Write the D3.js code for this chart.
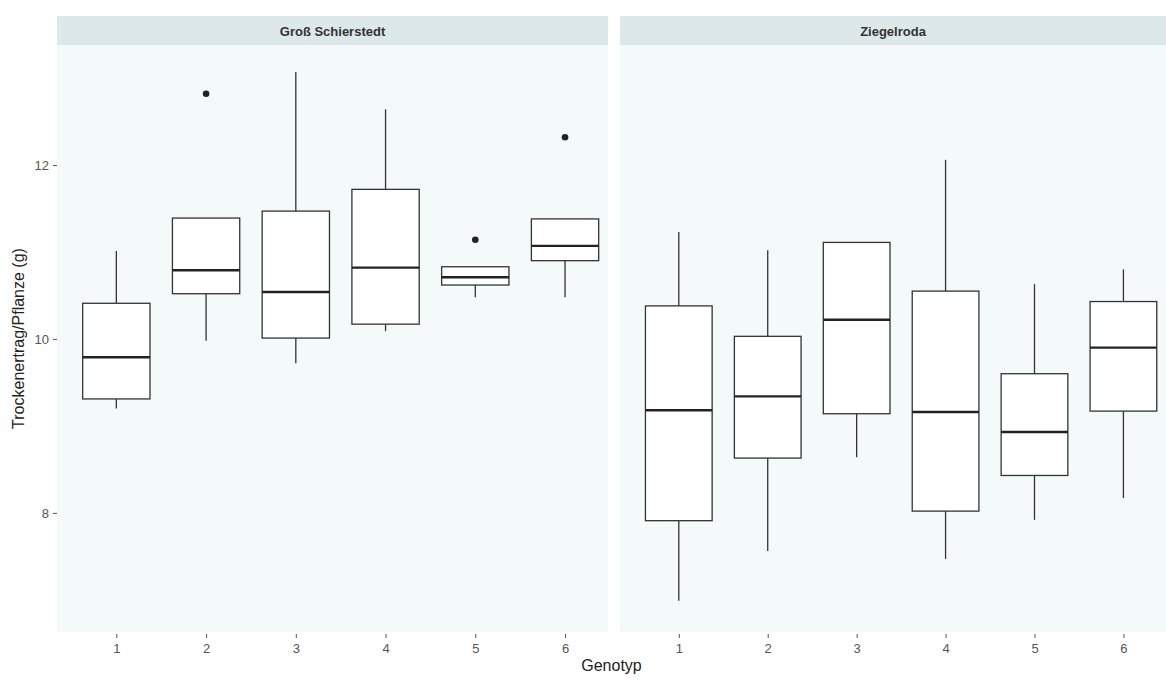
<!DOCTYPE html>
<html>
<head>
<meta charset="utf-8">
<script src="https://cdn.jsdelivr.net/npm/d3@7"></script>
<style>
  body { margin: 0; background: #fff; font-family: "Liberation Sans", Arial, sans-serif; }
</style>
</head>
<body>
<div id="chart"></div>
<script>
// genotypes on the x axis, one facet per location
var genotypes = ["1", "2", "3", "4", "5", "6"];
var locations = ["Groß Schierstedt", "Ziegelroda"];
var yTicks = [8, 10, 12];

// Groß Schierstedt
var gsWhiskerLow  = [9.20, 9.98, 9.72, 10.09, 10.48, 10.48];
var gsQ1          = [9.31, 10.52, 10.01, 10.17, 10.62, 10.90];
var gsMedian      = [9.79, 10.79, 10.54, 10.82, 10.71, 11.07];
var gsQ3          = [10.41, 11.39, 11.47, 11.72, 10.83, 11.38];
var gsWhiskerHigh = [11.01, 11.39, 13.07, 12.64, 10.83, 11.38];
var gsOutliers    = [[], [12.82], [], [], [11.14], [12.32]];

// Ziegelroda
var zrWhiskerLow  = [6.99, 7.56, 8.64, 7.47, 7.92, 8.17];
var zrQ1          = [7.91, 8.63, 9.14, 8.02, 8.43, 9.17];
var zrMedian      = [9.18, 9.34, 10.22, 9.16, 8.93, 9.90];
var zrQ3          = [10.38, 10.03, 11.11, 10.55, 9.60, 10.43];
var zrWhiskerHigh = [11.23, 11.02, 11.11, 12.06, 10.63, 10.80];
var zrOutliers    = [[], [], [], [], [], []];

function makeStats(lo, q1, med, q3, hi, out) {
  return genotypes.map(function(g, i) {
    return {g: g, lo: lo[i], q1: q1[i], med: med[i], q3: q3[i], hi: hi[i], out: out[i]};
  });
}

var facets = [
  {name: locations[0], stats: makeStats(gsWhiskerLow, gsQ1, gsMedian, gsQ3, gsWhiskerHigh, gsOutliers)},
  {name: locations[1], stats: makeStats(zrWhiskerLow, zrQ1, zrMedian, zrQ3, zrWhiskerHigh, zrOutliers)}
];

var W = 1166, H = 680;
var panelTop = 45, panelBottom = 632, stripTop = 16;
var panels = [{x0: 57, x1: 608}, {x0: 620, x1: 1166}];

var svg = d3.select("#chart").append("svg")
  .attr("width", W)
  .attr("height", H);

var y = d3.scaleLinear()
  .domain([6.63, 13.38])
  .range([panelBottom, panelTop]);

facets.forEach(function(f, pi) {
  var p = panels[pi];

  var x = d3.scalePoint()
    .domain(genotypes)
    .range([p.x0, p.x1])
    .padding(0.57)
    .align(0.58);
  var boxW = x.step() * 0.75;

  // strip
  svg.append("rect")
    .attr("x", p.x0).attr("y", stripTop)
    .attr("width", p.x1 - p.x0).attr("height", panelTop - stripTop)
    .attr("fill", "#dde8eb");
  svg.append("text")
    .attr("x", (p.x0 + p.x1) / 2).attr("y", (stripTop + panelTop) / 2 + 5)
    .attr("text-anchor", "middle")
    .attr("font-size", 13).attr("font-weight", "bold")
    .attr("fill", "#333")
    .text(f.name);

  // panel background
  svg.append("rect")
    .attr("x", p.x0).attr("y", panelTop)
    .attr("width", p.x1 - p.x0).attr("height", panelBottom - panelTop)
    .attr("fill", "#f4f9fa");

  // x axis
  var xAxis = svg.append("g")
    .attr("transform", "translate(0," + (panelBottom + 2) + ")")
    .call(d3.axisBottom(x).tickSize(4).tickPadding(6));
  xAxis.select(".domain").remove();
  xAxis.selectAll("line").attr("stroke", "#555");
  xAxis.selectAll("text").attr("font-size", 13).attr("fill", "#555")
    .attr("font-family", "Liberation Sans, Arial, sans-serif");

  var g = svg.append("g").selectAll("g")
    .data(f.stats)
    .enter().append("g");

  // whiskers
  g.append("line")
    .attr("x1", function(d) { return x(d.g); })
    .attr("x2", function(d) { return x(d.g); })
    .attr("y1", function(d) { return y(d.hi); })
    .attr("y2", function(d) { return y(d.q3); })
    .attr("stroke", "#333").attr("stroke-width", 1.3);
  g.append("line")
    .attr("x1", function(d) { return x(d.g); })
    .attr("x2", function(d) { return x(d.g); })
    .attr("y1", function(d) { return y(d.q1); })
    .attr("y2", function(d) { return y(d.lo); })
    .attr("stroke", "#333").attr("stroke-width", 1.3);

  // boxes
  g.append("rect")
    .attr("x", function(d) { return x(d.g) - boxW / 2; })
    .attr("y", function(d) { return y(d.q3); })
    .attr("width", boxW)
    .attr("height", function(d) { return y(d.q1) - y(d.q3); })
    .attr("fill", "#fff")
    .attr("stroke", "#333").attr("stroke-width", 1.3);

  // medians
  g.append("line")
    .attr("x1", function(d) { return x(d.g) - boxW / 2; })
    .attr("x2", function(d) { return x(d.g) + boxW / 2; })
    .attr("y1", function(d) { return y(d.med); })
    .attr("y2", function(d) { return y(d.med); })
    .attr("stroke", "#222").attr("stroke-width", 2.4);

  // outliers
  g.selectAll("circle")
    .data(function(d) { return d.out.map(function(v) { return {g: d.g, v: v}; }); })
    .enter().append("circle")
    .attr("cx", function(d) { return x(d.g); })
    .attr("cy", function(d) { return y(d.v); })
    .attr("r", 3.3)
    .attr("fill", "#222");
});

// y axis, left panel only
var yAxis = svg.append("g")
  .attr("transform", "translate(" + panels[0].x0 + ",0)")
  .call(d3.axisLeft(y).tickValues(yTicks).tickFormat(d3.format("d")).tickSize(4).tickPadding(4));
yAxis.select(".domain").remove();
yAxis.selectAll("line").attr("stroke", "#555");
yAxis.selectAll("text").attr("font-size", 13).attr("fill", "#555")
  .attr("font-family", "Liberation Sans, Arial, sans-serif");

// axis titles
svg.append("text")
  .attr("transform", "translate(24," + ((panelTop + panelBottom) / 2) + ") rotate(-90)")
  .attr("text-anchor", "middle")
  .attr("font-size", 16).attr("fill", "#222")
  .text("Trockenertrag/Pflanze (g)");

svg.append("text")
  .attr("x", (panels[0].x0 + panels[1].x1) / 2).attr("y", 671)
  .attr("text-anchor", "middle")
  .attr("font-size", 16).attr("fill", "#222")
  .text("Genotyp");
</script>
</body>
</html>
